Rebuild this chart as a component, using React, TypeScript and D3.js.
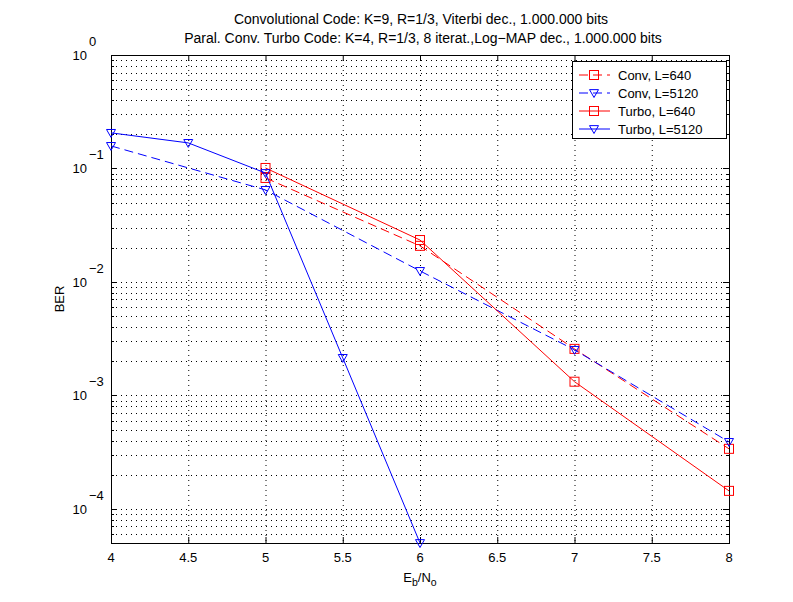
import * as d3 from 'd3';

const W = 793;
const H = 602;

const titleLines = [
  'Convolutional Code: K=9, R=1/3, Viterbi dec., 1.000.000 bits',
  'Paral. Conv. Turbo Code: K=4, R=1/3, 8 iterat.,Log\u2212MAP dec., 1.000.000 bits',
];

const xTicks = [4, 4.5, 5, 5.5, 6, 6.5, 7, 7.5, 8];
const yExponents = [0, -1, -2, -3, -4];

const convX = [5, 6, 7, 8];
const conv640 = [0.0825, 0.0208, 0.00257, 0.000338];
const turbo640 = [0.101, 0.0234, 0.00132, 0.000144];

const conv5120X = [4, 5, 6, 7, 8];
const conv5120 = [0.158, 0.0647, 0.0125, 0.00252, 0.000389];

const turbo5120X = [4, 4.5, 5, 5.5, 6];
const turbo5120 = [0.206, 0.168, 0.0912, 0.00214, 0.00005];

const series = [
  { name: 'Conv, L=640', xs: convX, ys: conv640, color: '#ff0000', dash: '9 5', marker: 'square' },
  { name: 'Conv, L=5120', xs: conv5120X, ys: conv5120, color: '#0000ff', dash: '9 5', marker: 'tri' },
  { name: 'Turbo, L=640', xs: convX, ys: turbo640, color: '#ff0000', dash: null, marker: 'square' },
  { name: 'Turbo, L=5120', xs: turbo5120X, ys: turbo5120, color: '#0000ff', dash: null, marker: 'tri' },
];

const FONT = '"Liberation Sans", Arial, Helvetica, sans-serif';

function Marker({ type, x, y, color }: { type: string; x: number; y: number; color: string }) {
  if (type === 'square') {
    return <rect x={x - 4.5} y={y - 4.5} width={9} height={9} fill="none" stroke={color} strokeWidth={1} />;
  }
  const s = 4.5;
  return (
    <path
      d={`M${x - s},${y - s * 0.75}L${x + s},${y - s * 0.75}L${x},${y + s}Z`}
      fill="none"
      stroke={color}
      strokeWidth={1}
    />
  );
}

export default function App() {
  const left = 111, right = 729, top = 55, bottom = 543;
  const x = d3.scaleLinear().domain([4, 8]).range([left, right]);
  const y = d3.scaleLog().domain([5e-5, 1]).range([bottom, top]);

  // log ticks 1..9 per decade inside the domain
  const minor: number[] = [];
  for (let d = -5; d <= 0; d++) {
    for (let k = 1; k <= 9; k++) {
      const v = k * Math.pow(10, d);
      if (v >= 5e-5 - 1e-12 && v <= 1 + 1e-12) minor.push(v);
    }
  }

  const line = d3.line<[number, number]>().x(d => x(d[0])).y(d => y(d[1]));

  const legX = 572, legY = 61, legW = 154, legH = 77;

  return (
    <svg width={W} height={H} style={{ position: 'absolute', left: 0, top: 0, background: '#fff' }} fontFamily={FONT}>
      <rect x={0} y={0} width={W} height={H} fill="#fff" />

      {/* grid */}
      <g stroke="#000" strokeWidth={1} strokeDasharray="1 4" fill="none">
        {xTicks.slice(1, -1).map(t => (
          <line key={'gx' + t} x1={x(t) + 0.5} x2={x(t) + 0.5} y1={top} y2={bottom} />
        ))}
        {minor.filter(v => v < 0.999).map(v => (
          <line key={'gy' + v} x1={left} x2={right} y1={Math.round(y(v)) + 0.5} y2={Math.round(y(v)) + 0.5} />
        ))}
      </g>

      {/* ticks */}
      <g stroke="#000" strokeWidth={1}>
        {xTicks.map(t => (
          <g key={'tx' + t}>
            <line x1={x(t) + 0.5} x2={x(t) + 0.5} y1={bottom} y2={bottom - 6} />
            <line x1={x(t) + 0.5} x2={x(t) + 0.5} y1={top} y2={top + 6} />
          </g>
        ))}
        {minor.map(v => {
          const major = Math.abs(Math.log10(v) - Math.round(Math.log10(v))) < 1e-9;
          const len = major ? 6 : 3;
          const yy = Math.round(y(v)) + 0.5;
          return (
            <g key={'ty' + v}>
              <line x1={left} x2={left + len} y1={yy} y2={yy} />
              <line x1={right} x2={right - len} y1={yy} y2={yy} />
            </g>
          );
        })}
      </g>

      {/* axes box */}
      <rect x={left + 0.5} y={top + 0.5} width={right - left} height={bottom - top} fill="none" stroke="#000" strokeWidth={1} />

      {/* series */}
      {series.map(s => {
        const pts: [number, number][] = s.xs.map((v, i) => [v, s.ys[i]]);
        return (
          <g key={s.name}>
            <path d={line(pts) || ''} fill="none" stroke={s.color} strokeWidth={1} strokeDasharray={s.dash || undefined} />
            {pts.map((p, i) => (
              <Marker key={i} type={s.marker} x={x(p[0])} y={y(p[1])} color={s.color} />
            ))}
          </g>
        );
      })}

      {/* x tick labels */}
      <g fontSize={13} textAnchor="middle" fill="#000">
        {xTicks.map(t => (
          <text key={'lx' + t} x={x(t)} y={bottom + 19}>{t}</text>
        ))}
      </g>

      {/* y tick labels */}
      <g fontSize={13} fill="#000">
        {yExponents.map(e => (
          <g key={'ly' + e}>
            <text x={87} y={y(Math.pow(10, e)) + 5} textAnchor="end">10</text>
            <text x={89} y={y(Math.pow(10, e)) - 9} textAnchor="start">{e === 0 ? '0' : '\u2212' + Math.abs(e)}</text>
          </g>
        ))}
      </g>

      {/* axis labels */}
      <text x={x(6)} y={582} fontSize={13} textAnchor="middle">
        E<tspan fontSize={10.5} dy={4}>b</tspan><tspan dy={-4}>/N</tspan><tspan fontSize={10.5} dy={4}>o</tspan>
      </text>
      <text transform={`translate(64,${(top + bottom) / 2}) rotate(-90)`} fontSize={13} textAnchor="middle">BER</text>

      {/* title */}
      <g fontSize={14} textAnchor="middle">
        <text x={(left + right) / 2 + 1} y={24}>{titleLines[0]}</text>
        <text x={(left + right) / 2 + 3} y={43}>{titleLines[1]}</text>
      </g>

      {/* legend */}
      <rect x={legX + 0.5} y={legY + 0.5} width={legW} height={legH} fill="#fff" stroke="#000" strokeWidth={1} />
      {series.map((s, i) => {
        const ly = legY + 14 + i * 18;
        return (
          <g key={'leg' + s.name}>
            <line x1={legX + 7} x2={legX + 38} y1={ly} y2={ly} stroke={s.color} strokeWidth={1} strokeDasharray={s.dash ? '9 5' : undefined} />
            <Marker type={s.marker} x={legX + 22} y={ly} color={s.color} />
            <text x={legX + 46} y={ly + 4.5} fontSize={13}>{s.name}</text>
          </g>
        );
      })}
    </svg>
  );
}
